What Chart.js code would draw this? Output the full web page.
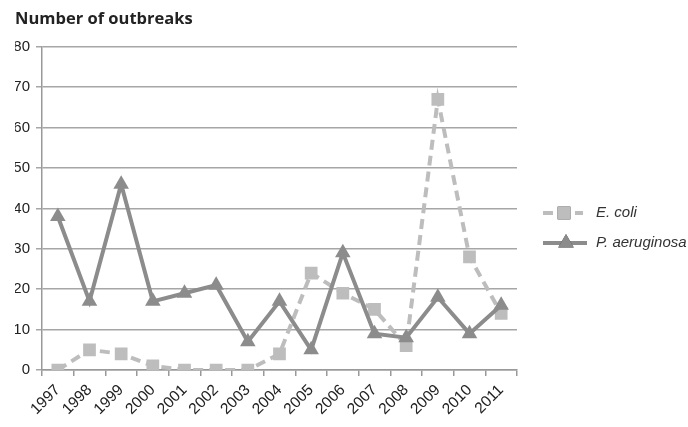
<!DOCTYPE html>
<html>
<head>
<meta charset="utf-8">
<script src="https://cdn.jsdelivr.net/npm/chart.js@4/dist/chart.umd.min.js"></script>
<style>
  html, body { margin: 0; padding: 0; background: #fff; }
  #wrap { width: 688px; height: 427px; position: relative; }
</style>
</head>
<body>
<div id="wrap"><canvas id="outbreakChart"></canvas></div>
<script>
// yearly outbreak counts
const years = ['1997','1998','1999','2000','2001','2002','2003','2004','2005','2006','2007','2008','2009','2010','2011'];
const ecoli = [0, 5, 4, 1, 0, 0, 0, 4, 24, 19, 15, 6, 67, 28, 14];
const paeruginosa = [38, 17, 46, 17, 19, 21, 7, 17, 5, 29, 9, 8, 18, 9, 16];
const yTicks = [0, 10, 20, 30, 40, 50, 60, 70, 80];

const tickFont = { family: "'Liberation Sans', Arial, sans-serif", size: 15 };

// legend on the right: line sample + marker + italic label
const sideLegend = {
    id: 'sideLegend',
    afterDraw(chart) {
        const ctx = chart.ctx;
        const rows = [
            { ds: chart.data.datasets[0], y: 213, x1: 543, x2: 583 },
            { ds: chart.data.datasets[1], y: 243, x1: 543, x2: 587 }
        ];
        ctx.save();
        rows.forEach(r => {
            ctx.strokeStyle = r.ds.borderColor;
            ctx.lineWidth = r.ds.borderWidth;
            ctx.setLineDash(r.ds.borderDash || []);
            ctx.beginPath();
            ctx.moveTo(r.x1, r.y);
            ctx.lineTo(r.x2, r.y);
            ctx.stroke();
            ctx.setLineDash([]);
            Chart.helpers.drawPoint(ctx, {
                pointStyle: r.ds.pointStyle,
                radius: r.ds.pointRadius,
                borderWidth: 0
            }, (r.x1 + r.x2) / 2 + 1, r.y);
            ctx.fillStyle = r.ds.pointBackgroundColor;
            ctx.fill();
            ctx.fillStyle = '#333';
            ctx.font = "italic 15px 'Liberation Sans', Arial, sans-serif";
            ctx.textBaseline = 'middle';
            ctx.fillText(r.ds.label, 596, r.y);
        });
        ctx.restore();
    }
};

new Chart(document.getElementById('outbreakChart'), {
    type: 'line',
    data: {
        labels: years,
        datasets: [
            {
                label: 'E. coli',
                data: ecoli,
                borderColor: '#bdbdbd',
                backgroundColor: '#bdbdbd',
                borderWidth: 4,
                borderDash: [10, 6],
                pointStyle: 'rect',
                pointRadius: 9,
                pointBackgroundColor: '#bdbdbd',
                pointBorderWidth: 0,
                tension: 0,
                order: 2
            },
            {
                label: 'P. aeruginosa',
                data: paeruginosa,
                borderColor: '#8c8c8c',
                backgroundColor: '#8c8c8c',
                borderWidth: 4,
                pointStyle: 'triangle',
                pointRadius: 9,
                pointBackgroundColor: '#8c8c8c',
                pointBorderWidth: 0,
                tension: 0,
                order: 1
            }
        ]
    },
    options: {
        responsive: true,
        maintainAspectRatio: false,
        animation: false,
        layout: { padding: { left: 15, right: 171, top: 0, bottom: 0 } },
        plugins: {
            legend: { display: false },
            tooltip: { enabled: false },
            title: {
                display: true,
                text: 'Number of outbreaks',
                align: 'start',
                color: '#222',
                font: { family: "'Open Sans', sans-serif", size: 16.5, weight: 'bold' },
                padding: { top: 9, bottom: 18 }
            }
        },
        scales: {
            x: {
                offset: true,
                grid: {
                    display: true,
                    offset: true,
                    drawOnChartArea: false,
                    drawTicks: true,
                    tickLength: 6,
                    color: '#999',
                    lineWidth: 1.5
                },
                border: { color: '#999', width: 1.5 },
                ticks: {
                    color: '#222',
                    font: { family: tickFont.family, size: 15.5 },
                    maxRotation: 45,
                    minRotation: 45,
                    autoSkip: false,
                    padding: 5
                },
                afterFit(scale) { scale.height = 57; }
            },
            y: {
                min: 0,
                max: 80,
                afterBuildTicks(scale) { scale.ticks = yTicks.map(v => ({ value: v })); },
                grid: {
                    color: '#a6a6a6',
                    lineWidth: 1.5,
                    tickLength: 6
                },
                border: { color: '#999', width: 1.5 },
                ticks: {
                    color: '#222',
                    font: tickFont,
                    padding: 6
                },
                afterFit(scale) { scale.width = 27; }
            }
        }
    },
    plugins: [sideLegend]
});
</script>
</body>
</html>
